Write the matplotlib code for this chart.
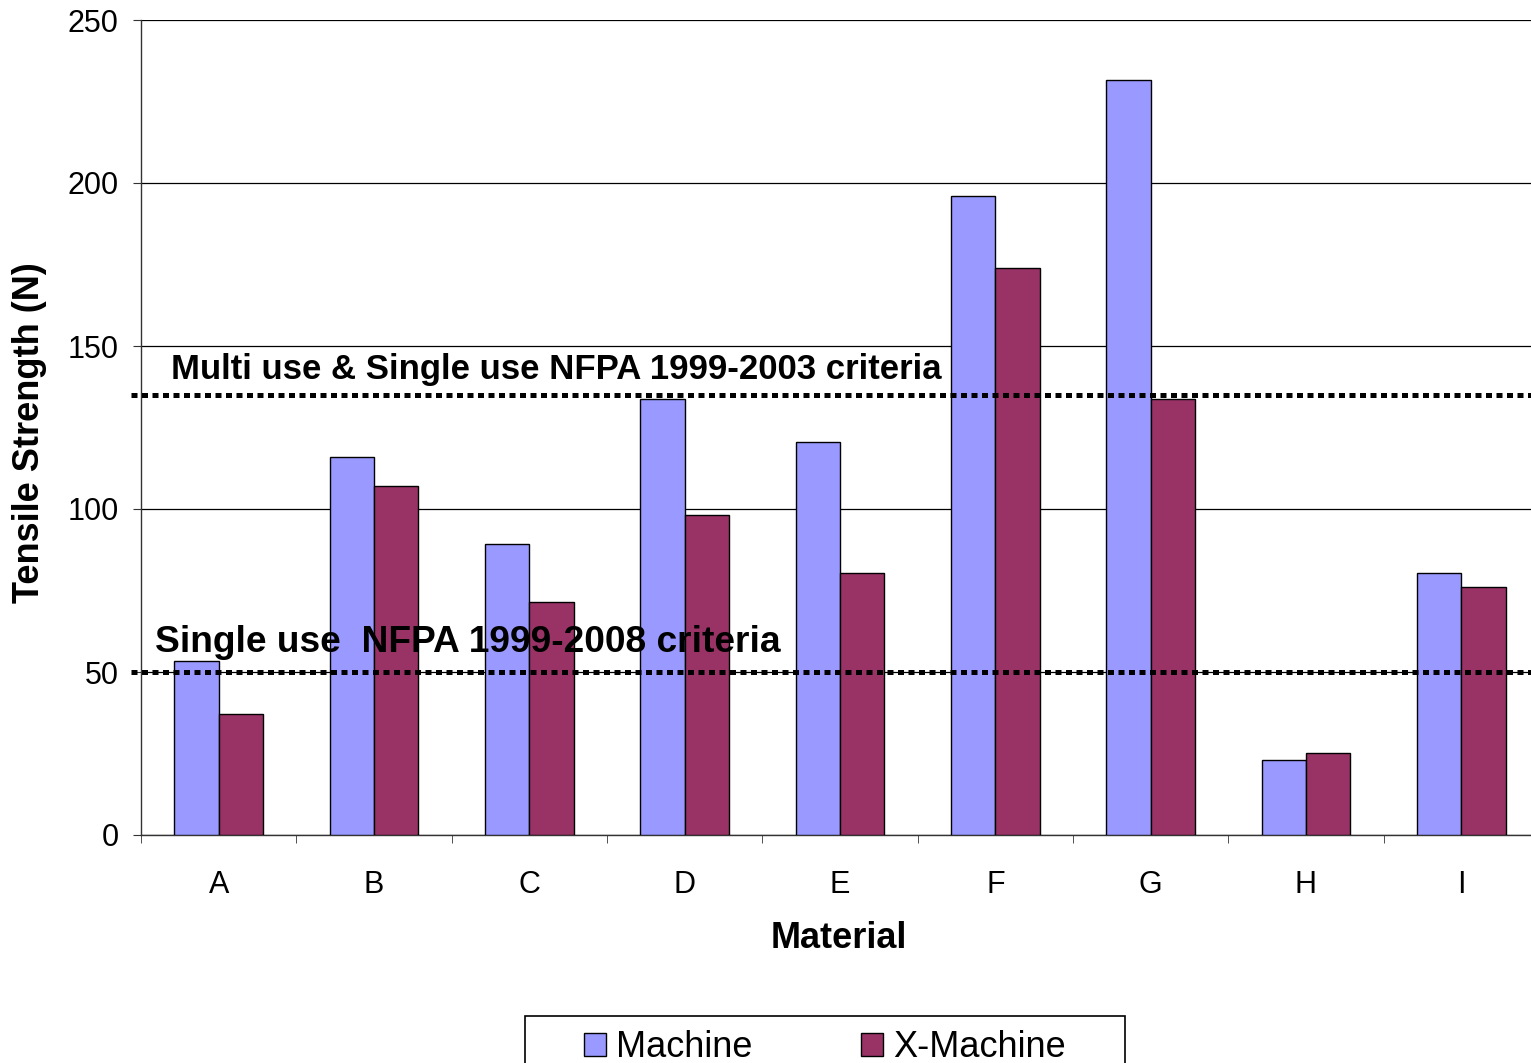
import matplotlib
matplotlib.use('Agg')
import numpy as np
import matplotlib.pyplot as plt
from matplotlib.patches import Rectangle

plt.rcParams['font.family'] = ['Liberation Sans', 'DejaVu Sans']

materials = ['A', 'B', 'C', 'D', 'E', 'F', 'G', 'H', 'I']
machine = [53.5, 116, 89.3, 133.7, 120.6, 196, 231.6, 22.9, 80.4]
x_machine = [37.0, 107, 71.5, 98.2, 80.4, 174, 133.6, 25.2, 76.1]
series_names = ['Machine', 'X-Machine']
colors = ['#9999FF', '#993366']

multi_crit = 135
single_crit = 50
multi_label = 'Multi use & Single use NFPA 1999-2003 criteria'
single_label = 'Single use  NFPA 1999-2008 criteria'

W, H = 1531, 1063
fig = plt.figure(figsize=(W / 100, H / 100), dpi=100)
ax = fig.add_axes([141 / W, 1 - 835 / H, 1398 / W, 815 / H])

x = np.arange(len(materials))
bw = 0.285
ax.bar(x - bw / 2, machine, bw, color=colors[0], edgecolor='black', lw=1, label=series_names[0], zorder=3)
ax.bar(x + bw / 2, x_machine, bw, color=colors[1], edgecolor='black', lw=1, label=series_names[1], zorder=3)

ax.set_xlim(-0.5, len(materials) - 0.5)
ax.set_ylim(0, 250)
ax.set_yticks([0, 50, 100, 150, 200, 250])
ax.yaxis.grid(True, color='black', lw=0.9, zorder=0)
ax.set_axisbelow(True)

for s in ['top', 'right']:
    ax.spines[s].set_visible(False)
for s in ['left', 'bottom']:
    ax.spines[s].set_color('#333333')
    ax.spines[s].set_linewidth(1.0)

ax.set_xticks(x)
ax.set_xticklabels(materials)
ax.set_xticks(np.arange(len(materials) + 1) - 0.5, minor=True)
ax.tick_params(axis='x', which='major', length=0, pad=25, labelsize=22)
ax.tick_params(axis='x', which='minor', length=6, direction='out', color='#333333')
ax.tick_params(axis='y', length=6, direction='out', pad=10, labelsize=22, color='#333333')

# criteria lines
for val in [multi_crit, single_crit]:
    ax.axhline(val, xmin=-0.007, color='black', lw=3.6, ls=(0, (1.2, 0.9)),
               dash_capstyle='butt', clip_on=False, zorder=4)
ax.text(-0.31, 142.9, multi_label, fontsize=25, fontweight='bold', va='center', ha='left', zorder=5)
ax.text(-0.41, 59.0, single_label, fontsize=26.7, fontweight='bold', va='center', ha='left', zorder=5)

fig.text(30 / W, 1 - 433 / H, 'Tensile Strength (N)', rotation=90, fontsize=26,
         fontweight='bold', ha='center', va='center')
fig.text(839 / W, 1 - 938 / H, 'Material', fontsize=26, fontweight='bold', ha='center', va='center')

# legend box (cut off by the figure edge as in the reference)
fig.patches.append(Rectangle((525 / W, -0.01), 600 / W, (H - 1016) / H + 0.01,
                             transform=fig.transFigure, fill=False, edgecolor='black', lw=1.2))
fig.legend(loc='upper center', bbox_to_anchor=(825 / W, 1 - 1005 / H), ncol=2, frameon=False,
           fontsize=26, handlelength=0.62, handleheight=0.62, handletextpad=0.28,
           columnspacing=3.0, borderpad=0.2)

fig.savefig('out.png', dpi=100)
